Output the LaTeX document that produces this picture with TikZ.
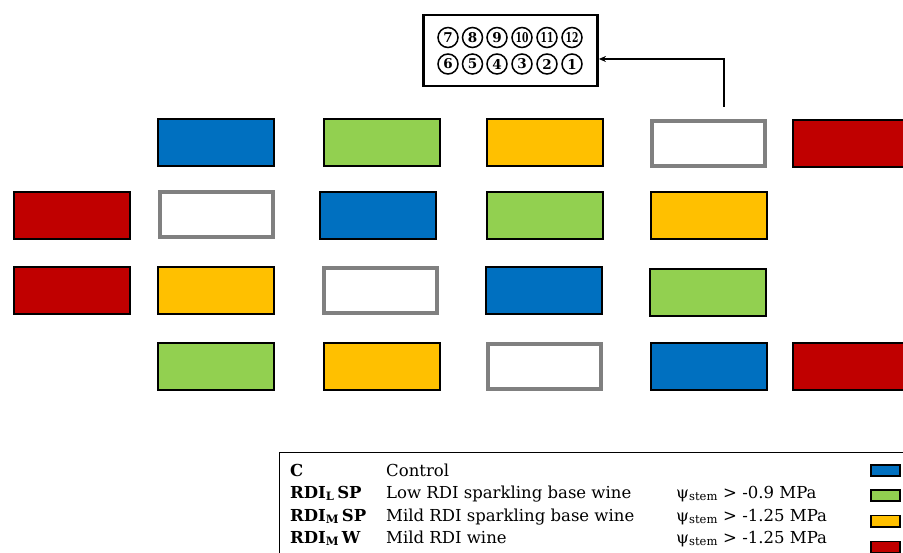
\documentclass[tikz,border=0pt]{standalone}
\usepackage{fontspec}
\setmainfont{DejaVu Serif}
\usepackage{graphicx}
\usetikzlibrary{arrows.meta,calc}
\definecolor{cblue}{HTML}{0070C0}
\definecolor{cgreen}{HTML}{92D050}
\definecolor{corange}{HTML}{FFC000}
\definecolor{cred}{HTML}{C00000}
\definecolor{cgray}{HTML}{808080}
\begin{document}
\begin{tikzpicture}[x=1pt,y=-1pt,
 colbox/.style={draw=black,line width=2pt,minimum width=116pt,minimum height=47pt,inner sep=0pt},
 greybox/.style={draw=cgray,line width=4pt,fill=white,minimum width=113pt,minimum height=45pt,inner sep=0pt},
 num/.style={circle,draw=black,line width=1.5pt,minimum size=20pt,inner sep=0pt,font=\fontsize{13.5}{13.5}\selectfont\bfseries},
 lab/.style={anchor=base west,font=\fontsize{16.5}{19}\selectfont\bfseries,inner sep=0pt},
 txt/.style={anchor=base west,font=\fontsize{16.5}{19}\selectfont,inner sep=0pt},
 sw/.style={draw=black,line width=1.6pt,minimum width=29.4pt,minimum height=11.4pt,inner sep=0pt}]
\useasboundingbox (0,0) rectangle (903,553);
\fill[white] (0,0) rectangle (903,553);

% board with circled numbers
\node[draw,line width=2.8pt,minimum width=174pt,minimum height=71pt,inner sep=0pt] (board) at (510.5,50.5) {};
\node[num] (n7) at (448,37.5) {7};
\node[num] (n8) at (472.5,37.5) {8};
\node[num] (n9) at (497,37.5) {9};
\node[num] (n10) at (522,37.5) {\scalebox{0.68}[1]{10}};
\node[num] (n11) at (547,37.5) {\scalebox{0.68}[1]{11}};
\node[num] (n12) at (572,37.5) {\scalebox{0.68}[1]{12}};
\node[num] (n6) at (448,64) {6};
\node[num] (n5) at (472.5,64) {5};
\node[num] (n4) at (497,64) {4};
\node[num] (n3) at (522,64) {3};
\node[num] (n2) at (547,64) {2};
\node[num] (n1) at (572,64) {1};

% row 1
\node[colbox,fill=cblue] (r1c1) at (216,143) {};
\node[colbox,fill=cgreen] (r1c2) at (381.5,143) {};
\node[colbox,fill=corange] (r1c3) at (545,143) {};
\node[greybox] (r1c4) at (708,143.5) {};
\node[colbox,fill=cred] (r1c5) at (851,143.5) {};
% row 2
\node[colbox,fill=cred] (r2c0) at (71.5,216) {};
\node[greybox] (r2c1) at (216,215) {};
\node[colbox,fill=cblue] (r2c2) at (378,216) {};
\node[colbox,fill=cgreen] (r2c3) at (544.5,216) {};
\node[colbox,fill=corange] (r2c4) at (708.5,216) {};
% row 3
\node[colbox,fill=cred] (r3c0) at (71.5,291) {};
\node[colbox,fill=corange] (r3c1) at (216,291) {};
\node[greybox] (r3c2) at (380,291) {};
\node[colbox,fill=cblue] (r3c3) at (544,291) {};
\node[colbox,fill=cgreen] (r3c4) at (708,292.5) {};
% row 4
\node[colbox,fill=cgreen] (r4c1) at (215.5,367) {};
\node[colbox,fill=corange] (r4c2) at (381.5,367) {};
\node[greybox] (r4c3) at (544.5,367) {};
\node[colbox,fill=cblue] (r4c4) at (709,367) {};
\node[colbox,fill=cred] (r4c5) at (851,367) {};

% arrow
\coordinate (src) at (724,107);
\draw[line width=1.4pt,-{Stealth[length=7pt,width=6pt]}] (src) |- ($(board.east)+(0,8.5)$);

% legend
\node[draw,line width=1.2pt,minimum width=660pt,minimum height=120pt,anchor=north west,inner sep=0pt] (legend) at (279,452) {};
\node[lab] (l1) at (290,476) {C};
\node[txt] (d1) at (386,476) {Control};
\node[lab] (l2) at (290,498) {RDI\textsubscript{L}\,SP};
\node[txt] (d2) at (386,498) {Low RDI sparkling base wine};
\node[txt] (p2) at (676,498) {ψ\textsubscript{stem} > -0.9 MPa};
\node[lab] (l3) at (290,521) {RDI\textsubscript{M}\,SP};
\node[txt] (d3) at (386,521) {Mild RDI sparkling base wine};
\node[txt] (p3) at (676,521) {ψ\textsubscript{stem} > -1.25 MPa};
\node[lab] (l4) at (290,543) {RDI\textsubscript{M}\,W};
\node[txt] (d4) at (386,543) {Mild RDI wine};
\node[txt] (p4) at (676,543) {ψ\textsubscript{stem} > -1.25 MPa};
\node[sw,fill=cblue] (s1) at (885.5,470.5) {};
\node[sw,fill=cgreen] (s2) at (885.5,495.5) {};
\node[sw,fill=corange] (s3) at (885.5,521) {};
\node[sw,fill=cred] (s4) at (885.5,547) {};
\end{tikzpicture}
\end{document}
